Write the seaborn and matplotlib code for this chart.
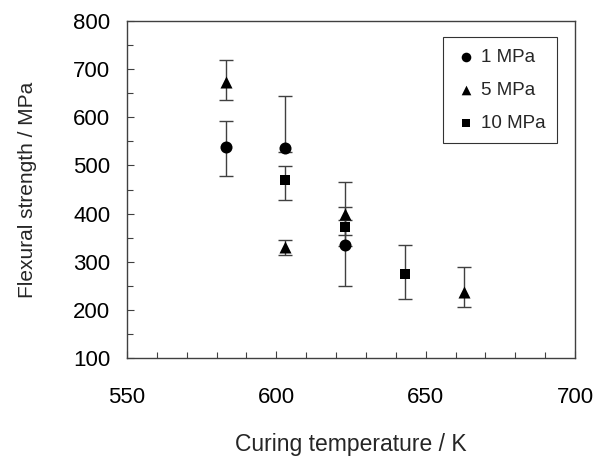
import matplotlib
matplotlib.use("Agg")
import matplotlib.pyplot as plt
import seaborn as sns
import pandas as pd
import numpy as np
from matplotlib.ticker import MultipleLocator

# Data
series = ["1 MPa", "5 MPa", "10 MPa"]
temp_1 = [583, 603, 623]
str_1 = [539, 537, 334]
lo_1 = [61, 9, 85]
hi_1 = [54, 107, 80]

temp_5 = [583, 603, 623, 663]
str_5 = [673, 331, 399, 238]
lo_5 = [38, 18, 67, 33]
hi_5 = [45, 14, 67, 50]

temp_10 = [603, 623, 643]
str_10 = [470, 372, 274]
lo_10 = [42, 17, 52]
hi_10 = [29, 15, 61]

x_ticks = [550, 600, 650, 700]
y_ticks = [100, 200, 300, 400, 500, 600, 700, 800]

sns.set_theme(style="white")
plt.rcParams['font.family'] = ['Liberation Sans', 'DejaVu Sans']

frames = []
for name, t, s, lo, hi in [(series[0], temp_1, str_1, lo_1, hi_1),
                           (series[1], temp_5, str_5, lo_5, hi_5),
                           (series[2], temp_10, str_10, lo_10, hi_10)]:
    frames.append(pd.DataFrame({"T": t, "S": s, "lo": lo, "hi": hi, "P": name}))
df = pd.concat(frames, ignore_index=True)

fig = plt.figure(figsize=(5.99, 4.59), dpi=100)
ax = fig.add_axes([127/599, 1-358/459, 448/599, 337/459])

# error bars first
for name, g in df.groupby("P", sort=False):
    ax.errorbar(g["T"], g["S"], yerr=[g["lo"], g["hi"]], fmt="none",
                ecolor="#404040", elinewidth=1.0, capsize=5, capthick=1.0, zorder=2)

markers = {"1 MPa": "o", "5 MPa": "^", "10 MPa": "s"}
sizes = {"1 MPa": 75, "5 MPa": 75, "10 MPa": 60}
for name in series:
    g = df[df["P"] == name]
    sns.scatterplot(data=g, x="T", y="S", marker=markers[name], s=sizes[name],
                    color="black", edgecolor="black", linewidth=0, label=name,
                    ax=ax, zorder=3)

ax.set_xlim(550, 700)
ax.set_ylim(100, 800)
ax.set_xticks(x_ticks)
ax.set_yticks(y_ticks)
ax.xaxis.set_minor_locator(MultipleLocator(10))
ax.yaxis.set_minor_locator(MultipleLocator(50))
ax.tick_params(axis="both", which="both", direction="in", color="#404040",
               width=0.8, labelsize=16, labelcolor="black")
ax.tick_params(axis="both", which="major", length=5)
ax.tick_params(axis="both", which="minor", length=4)
ax.tick_params(axis="x", which="major", pad=21)
ax.tick_params(axis="y", which="major", pad=12)
ax.tick_params(left=True, bottom=True, which="both")

for sp in ax.spines.values():
    sp.set_color("#404040")
    sp.set_linewidth(1.0)
    sp.set_visible(True)

ax.set_xlabel("Curing temperature / K", fontsize=16.5, labelpad=18)
ax.set_ylabel("Flexural strength / MPa", fontsize=15, labelpad=26)

leg = ax.legend(loc="upper right", bbox_to_anchor=(0.96, 0.952), frameon=True,
                fancybox=False, fontsize=13.5, handletextpad=0.15, handlelength=1.3,
                borderpad=0.6, labelspacing=0.85, markerscale=0.8,
                borderaxespad=0.0)
leg.get_frame().set_edgecolor("black")
leg.get_frame().set_linewidth(0.8)

fig.savefig("out.png", dpi=100)
